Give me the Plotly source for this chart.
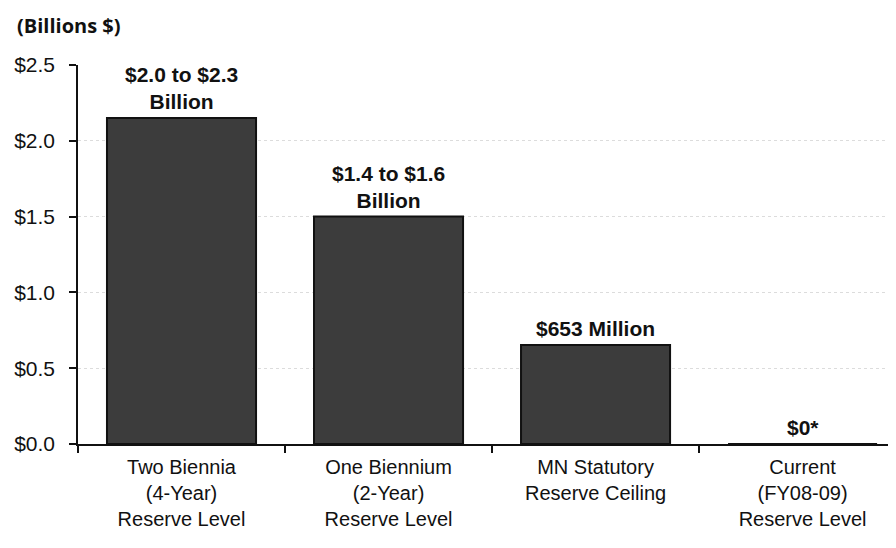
import plotly.graph_objects as go

categories = [
    "Two Biennia<br>(4-Year)<br>Reserve Level",
    "One Biennium<br>(2-Year)<br>Reserve Level",
    "MN Statutory<br>Reserve Ceiling",
    "Current<br>(FY08-09)<br>Reserve Level",
]
values = [2.15, 1.5, 0.653, 0.0]
value_labels = [
    "$2.0 to $2.3<br>Billion",
    "$1.4 to $1.6<br>Billion",
    "$653 Million",
    "$0*",
]
y_ticks = [0.0, 0.5, 1.0, 1.5, 2.0, 2.5]
y_tick_text = ["$0.0", "$0.5", "$1.0", "$1.5", "$2.0", "$2.5"]

fig = go.Figure()
fig.add_trace(go.Bar(
    x=categories,
    y=values,
    width=0.72,
    marker=dict(color="#3c3c3c", line=dict(color="#111111", width=2)),
    hoverinfo="skip",
))

for c, v, t in zip(categories, values, value_labels):
    fig.add_annotation(
        x=c, y=v, text="<b>" + t + "</b>", showarrow=False,
        yanchor="bottom", yshift=3,
        font=dict(family="Liberation Sans, Arial", size=21, color="#111111"),
    )

fig.add_annotation(
    xref="paper", yref="paper", x=-0.075, y=1.105,
    xanchor="left", yanchor="middle", borderpad=0,
    text="<b>(Billions $)</b>", showarrow=False,
    font=dict(family="Open Sans", size=20, color="#111111"),
)

fig.update_layout(
    width=896, height=540,
    margin=dict(l=70, r=0, t=57, b=104),
    paper_bgcolor="white", plot_bgcolor="white",
    showlegend=False,
    font=dict(family="Liberation Sans, Arial", color="#111111"),
)
fig.update_xaxes(
    range=[-0.5, 3.49],
    showline=True, linecolor="#111111", linewidth=2,
    ticks="outside", tickson="boundaries", ticklen=7, tickcolor="#111111", tickwidth=1.5,
    tickfont=dict(size=20, color="#111111"),
    ticklabelstandoff=4,
    showgrid=False,
)
fig.update_yaxes(
    range=[0, 2.5],
    tickvals=y_ticks, ticktext=y_tick_text,
    showline=True, linecolor="#111111", linewidth=1.5,
    ticks="outside", ticklen=7, tickcolor="#111111", tickwidth=1.5,
    tickfont=dict(size=21, color="#111111"),
    ticklabelstandoff=10,
    showgrid=True, gridcolor="#dcdcdc", griddash="dot", gridwidth=1,
    zeroline=False,
)

fig.write_html("out.html")
